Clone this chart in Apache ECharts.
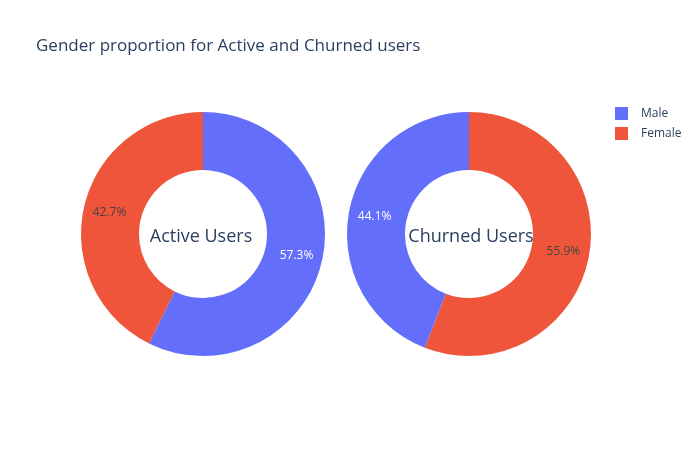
<!DOCTYPE html>
<html><head><meta charset="utf-8">
<script src="https://cdn.jsdelivr.net/npm/echarts@6/dist/echarts.min.js"></script>
<style>html,body{margin:0;padding:0;background:#fff}#c{width:700px;height:450px}</style>
</head><body><div id="c"></div>
<script>
const genders = ['Male', 'Female'];
const activeValues = [57.3, 42.7];
const churnedValues = [44.1, 55.9];
const panelTitles = ['Active Users', 'Churned Users'];
const colorMap = { Male: '#636efa', Female: '#EF553B' };
const labelColorMap = { Male: '#ffffff', Female: '#444444' };
const font = '"Open Sans", "Noto Sans", sans-serif';

function buildData(values) {
  const rows = genders.map((g, i) => ({ name: g, value: values[i] }));
  rows.sort((a, b) => b.value - a.value);
  return rows.map(r => ({
    name: r.name, value: r.value,
    itemStyle: { color: colorMap[r.name] },
    label: { color: labelColorMap[r.name] }
  }));
}
function pie(values, cx) {
  return {
    type: 'pie', center: [cx, 234], radius: [64, 122], startAngle: 90, clockwise: true,
    percentPrecision: 1, avoidLabelOverlap: false, animation: false,
    label: { show: true, position: 'inside', formatter: '{d}%', fontFamily: font, fontSize: 12 },
    labelLine: { show: false },
    emphasis: { disabled: true },
    itemStyle: { borderWidth: 0 },
    data: buildData(values)
  };
}
const chart = echarts.init(document.getElementById('c'), null, { renderer: 'canvas' });
chart.setOption({
  animation: false,
  title: [
    { text: 'Gender proportion for Active and Churned users', left: 31, top: 33,
      textStyle: { fontFamily: font, fontSize: 17, fontWeight: 'normal', color: '#2a3f5f' } },
    { text: panelTitles[0], left: 196, top: 223, textAlign: 'center',
      textStyle: { fontFamily: font, fontSize: 18, fontWeight: 'normal', color: '#2a3f5f' } },
    { text: panelTitles[1], left: 466, top: 223, textAlign: 'center',
      textStyle: { fontFamily: font, fontSize: 18, fontWeight: 'normal', color: '#2a3f5f' } }
  ],
  legend: {
    orient: 'vertical', left: 610, top: 102, itemGap: 7, itemWidth: 13, itemHeight: 13,
    icon: 'rect', data: genders,
    textStyle: { fontFamily: font, fontSize: 12, color: '#2a3f5f', padding: [0, 0, 0, 8] }
  },
  series: [pie(activeValues, 203), pie(churnedValues, 469)]
});
</script></body></html>
